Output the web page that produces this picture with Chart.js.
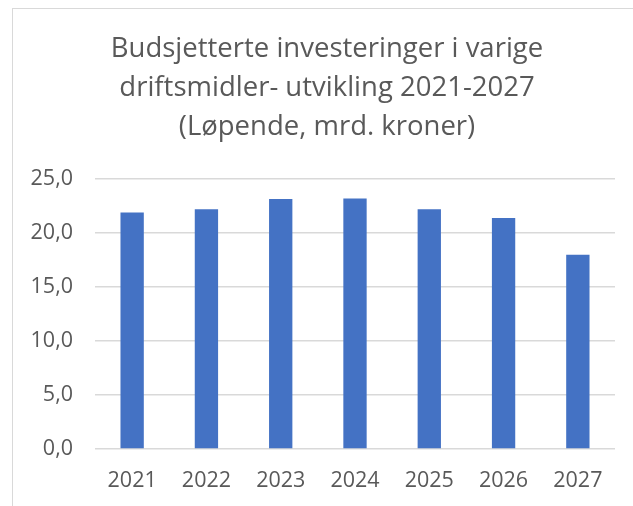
<!DOCTYPE html>
<html>
<head>
<meta charset="utf-8">
<script src="https://cdn.jsdelivr.net/npm/chart.js@4"></script>
<style>
  html, body { margin: 0; padding: 0; background: #fff; overflow: hidden; }
  #wrap { position: relative; width: 633px; height: 506px; }
  #frame { position: absolute; left: 12px; top: 8px; width: 640px; height: 520px;
           border-left: 1.5px solid #d9d9d9; border-top: 1.5px solid #d9d9d9; pointer-events: none; }
</style>
</head>
<body>
<div id="wrap">
  <canvas id="myChart" width="633" height="506"></canvas>
  <div id="frame"></div>
</div>
<script>
// data
var years = ['2021', '2022', '2023', '2024', '2025', '2026', '2027'];
var investments = [21.9, 22.2, 23.15, 23.2, 22.2, 21.4, 18.0];
var titleLines = ['Budsjetterte investeringer i varige', 'driftsmidler- utvikling 2021-2027', '(Løpende, mrd. kroner)'];
var yMin = 0, yMax = 25, yStep = 5;

var textColor = '#595959';
var gridColor = '#d9d9d9';

var ctx = document.getElementById('myChart');
var myChart = new Chart(ctx, {
    type: 'bar',
    data: {
        labels: years,
        datasets: [{
            label: 'Investeringer',
            data: investments,
            backgroundColor: '#4472c4',
            borderWidth: 0,
            barPercentage: 0.314,
            categoryPercentage: 1
        }]
    },
    options: {
        responsive: false,
        animation: false,
        layout: {
            padding: { left: 21, right: 0, top: 0, bottom: 0 }
        },
        plugins: {
            legend: { display: false },
            tooltip: { enabled: false },
            title: {
                display: true,
                text: titleLines,
                color: textColor,
                font: { family: 'Open Sans', size: 27.5, weight: 'normal', lineHeight: 1.42 },
                padding: { top: 30, bottom: 32 }
            }
        },
        scales: {
            x: {
                grid: { display: false },
                border: { display: false },
                ticks: {
                    color: textColor,
                    font: { family: 'Open Sans', size: 21.5 },
                    padding: 11,
                    maxRotation: 0
                },
                afterFit: function (scale) {
                    scale.height = 57;
                }
            },
            y: {
                min: yMin,
                max: yMax,
                border: { display: false },
                grid: { color: gridColor, lineWidth: 1.5, drawTicks: false },
                ticks: {
                    stepSize: yStep,
                    color: textColor,
                    font: { family: 'Open Sans', size: 21.5 },
                    padding: 22,
                    callback: function (value) {
                        return value.toFixed(1).replace('.', ',');
                    }
                },
                afterFit: function (scale) {
                    scale.width = 74;
                }
            },
            // empty right-hand axis, only keeps the right margin of the plot
            yRight: {
                position: 'right',
                grid: { display: false },
                border: { display: false },
                ticks: { display: false },
                afterFit: function (scale) {
                    scale.width = 18;
                }
            }
        }
    }
});
</script>
</body>
</html>
